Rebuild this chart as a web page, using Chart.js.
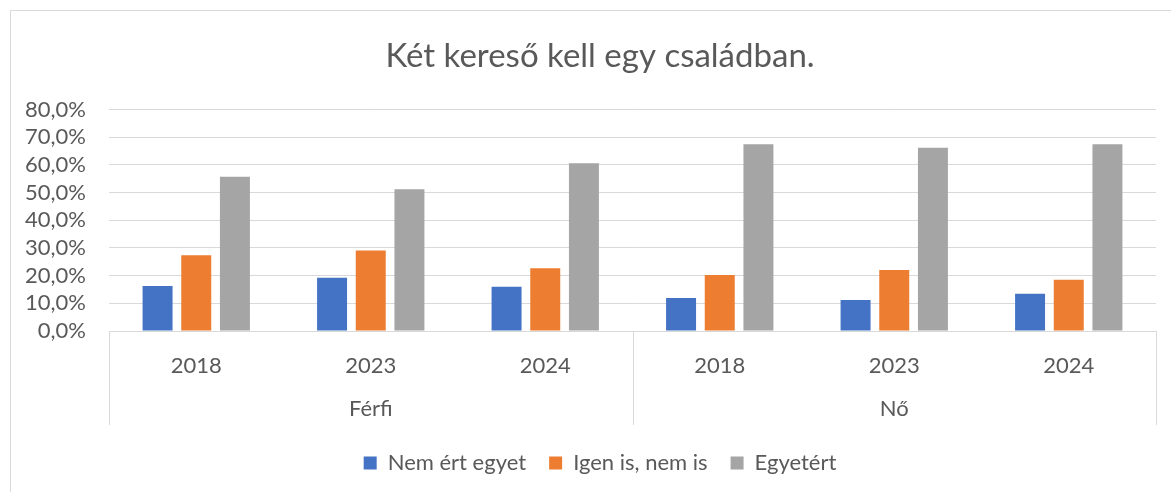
<!DOCTYPE html>
<html>
<head>
<meta charset="utf-8">
<script src="https://cdn.jsdelivr.net/npm/chart.js@4/dist/chart.umd.min.js"></script>
<style>
  html, body { margin: 0; padding: 0; background: #fff; }
  #wrap { width: 1171px; height: 492px; position: relative; overflow: hidden; }
  #inner { width: 1200px; height: 492px; position: relative; }
</style>
</head>
<body>
<div id="wrap"><div id="inner"><canvas id="chart"></canvas></div></div>
<script>
const years = ['2018', '2023', '2024', '2018', '2023', '2024'];
const groups = ['Férfi', 'Nő'];
const seriesNames = ['Nem ért egyet', 'Igen is, nem is', 'Egyetért'];
const nemErtEgyet = [16.3, 19.2, 16.0, 11.9, 11.2, 13.5];
const igenIsNemIs = [27.4, 29.1, 22.7, 20.2, 22.0, 18.5];
const egyetert = [55.7, 51.2, 60.6, 67.5, 66.2, 67.5];
const colors = ['#4472C4', '#ED7D31', '#A5A5A5'];

const textColor = '#595959';
const lineColor = '#d9d9d9';
const font = 'Lato';
const plotBottom = 331;
const bottomPad = 8;

// frame round the chart + the second (group) level of the category axis
const groupAxis = {
  id: 'groupAxis',
  beforeDraw(chart) {
    const { ctx, width, height } = chart;
    ctx.save();
    ctx.strokeStyle = lineColor;
    ctx.lineWidth = 1;
    ctx.strokeRect(10.5, 10.5, width + 20, height + 20);
    ctx.restore();
  },
  afterDraw(chart) {
    const { ctx, chartArea, scales: { x } } = chart;
    const per = years.length / groups.length;
    const half = (x.getPixelForValue(1) - x.getPixelForValue(0)) / 2;
    ctx.save();
    ctx.strokeStyle = lineColor;
    ctx.lineWidth = 1;
    for (let g = 0; g <= groups.length; g++) {
      const xp = Math.round(x.getPixelForValue(g * per) - half) + 0.5;
      ctx.beginPath();
      ctx.moveTo(xp, chartArea.bottom);
      ctx.lineTo(xp, 425);
      ctx.stroke();
    }
    ctx.fillStyle = textColor;
    ctx.font = `22px ${font}`;
    ctx.textAlign = 'center';
    ctx.textBaseline = 'middle';
    groups.forEach((name, g) => {
      const a = x.getPixelForValue(g * per) - half;
      const b = x.getPixelForValue((g + 1) * per) - half;
      ctx.fillText(name, (a + b) / 2, 409);
    });
    ctx.restore();
  }
};

new Chart(document.getElementById('chart'), {
  type: 'bar',
  data: {
    labels: years,
    datasets: [
      { label: seriesNames[0], data: nemErtEgyet, backgroundColor: colors[0] },
      { label: seriesNames[1], data: igenIsNemIs, backgroundColor: colors[1] },
      { label: seriesNames[2], data: egyetert, backgroundColor: colors[2] }
    ]
  },
  options: {
    responsive: true,
    maintainAspectRatio: false,
    animation: false,
    datasets: {
      bar: { categoryPercentage: 0.665, barPercentage: 0.775 }
    },
    layout: { padding: { top: 10, right: 0, bottom: bottomPad, left: 0 } },
    plugins: {
      title: {
        display: true,
        text: 'Két kereső kell egy családban.',
        color: textColor,
        font: { family: font, size: 33, weight: 'normal' },
        padding: { top: 27, bottom: 33 }
      },
      legend: {
        position: 'bottom',
        labels: {
          color: textColor,
          font: { family: font, size: 22 },
          boxWidth: 13,
          boxHeight: 13,
          padding: 23
        }
      },
      tooltip: { enabled: false }
    },
    scales: {
      x: {
        grid: { display: false, drawTicks: false },
        border: { display: true, color: lineColor },
        ticks: { color: textColor, font: { family: font, size: 22 }, padding: 22, autoSkip: false, maxRotation: 0 },
        afterFit(scale) {
          scale.height = scale.chart.height - bottomPad - scale.chart.legend.height - plotBottom;
        }
      },
      y: {
        min: 0,
        max: 80,
        grid: { color: lineColor, drawTicks: false },
        border: { display: false },
        ticks: {
          stepSize: 10,
          autoSkip: false,
          color: textColor,
          font: { family: font, size: 22 },
          padding: 23,
          callback: v => v.toFixed(1).replace('.', ',') + '%'
        },
        afterFit(scale) { scale.width = 109; }
      },
      // empty right-hand spacer so the title and legend centre where the original does
      spacer: {
        type: 'linear',
        position: 'right',
        grid: { display: false, drawTicks: false },
        border: { display: false },
        ticks: { display: false },
        afterFit(scale) { scale.width = 44; }
      }
    }
  },
  plugins: [groupAxis]
});
</script>
</body>
</html>
